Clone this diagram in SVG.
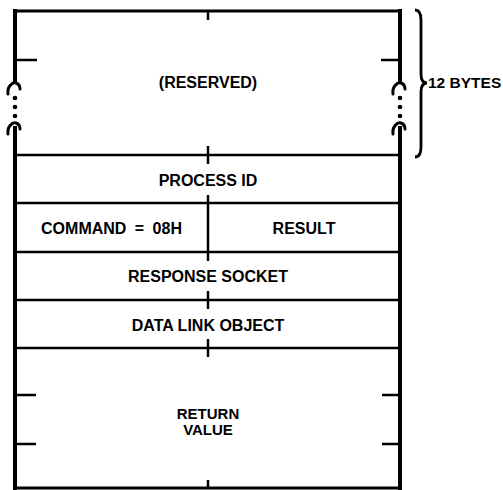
<svg xmlns="http://www.w3.org/2000/svg" width="503" height="490" viewBox="0 0 503 490">
<style>
.wall{stroke:#000;stroke-width:4;fill:none}
.hl{stroke:#000;stroke-width:2.5;fill:none}
.tick{stroke:#000;stroke-width:2.5;fill:none}
.brk{stroke:#000;stroke-width:3;fill:none;stroke-linecap:round}
.lbl{font-family:"Liberation Sans",Arial,sans-serif;font-weight:bold;font-size:16px;fill:#000;text-anchor:middle}
</style>
<rect width="503" height="490" fill="#fff"/>
<g id="frame">
<path class="wall" d="M15,9 L15,83 M15,126 L15,490 M400,9 L400,83 M400,126 L400,490"/>
<path class="hl" d="M13,11 L402,11 M15,488 L400,488" style="stroke-width:3"/>
<path class="brk" d="M8,94 C7,87 12,82 16,83 C19,84 20,86 20,89"/>
<path class="brk" d="M8,134 C7,127 12,122 16,123 C19,124 20,126 20,129"/>
<path class="brk" d="M393,94 C392,87 397,82 401,83 C404,84 405,86 405,89"/>
<path class="brk" d="M393,134 C392,127 397,122 401,123 C404,124 405,126 405,129"/>
<g fill="#000">
<circle cx="15" cy="98" r="2.3"/><circle cx="15" cy="107" r="2.3"/><circle cx="15" cy="116" r="2.3"/>
<circle cx="400" cy="98" r="2.3"/><circle cx="400" cy="107" r="2.3"/><circle cx="400" cy="116" r="2.3"/>
</g>
</g>
<g id="reserved">
<path class="tick" d="M15,60 L37,60 M400,60 L381,60 M208,11 L208,20"/>
<text class="lbl" x="208" y="88">(RESERVED)</text>
</g>
<g id="size-brace">
<path d="M415,10 C420,10 421,14 421,20 L421,74 C421,80 423,83 427,83 C423,83 421,86 421,92 L421,147 C421,153 420,157 415,157" stroke="#000" stroke-width="2.8" fill="none"/>
<text x="428" y="88" font-family="'Liberation Sans',Arial,sans-serif" font-weight="bold" font-size="15.5" fill="#000">12 BYTES</text>
</g>
<g id="process-id">
<path class="hl" d="M15,155 L400,155"/>
<path class="tick" d="M208,146 L208,164"/>
<text class="lbl" x="208" y="186">PROCESS ID</text>
</g>
<g id="command">
<path class="hl" d="M15,203 L400,203"/>
<path class="tick" d="M208,195 L208,252"/>
<text class="lbl" x="111.5" y="234" word-spacing="4">COMMAND = 08H</text>
</g>
<g id="result">
<text class="lbl" x="304" y="234">RESULT</text>
</g>
<g id="response-socket">
<path class="hl" d="M15,252 L400,252"/>
<path class="tick" d="M208,252 L208,261"/>
<text class="lbl" x="208" y="282">RESPONSE SOCKET</text>
</g>
<g id="data-link-object">
<path class="hl" d="M15,300 L400,300"/>
<path class="tick" d="M208,291 L208,309"/>
<text class="lbl" x="208" y="331">DATA LINK OBJECT</text>
</g>
<g id="return-value">
<path class="hl" d="M15,348 L400,348"/>
<path class="tick" d="M208,339 L208,357 M208,480 L208,488 M15,395 L36,395 M15,444 L36,444 M400,395 L382,395 M400,444 L382,444"/>
<text class="lbl" x="208" y="418.5" style="font-size:15px">RETURN</text>
<text class="lbl" x="208" y="434.5" style="font-size:15px">VALUE</text>
</g>
</svg>
